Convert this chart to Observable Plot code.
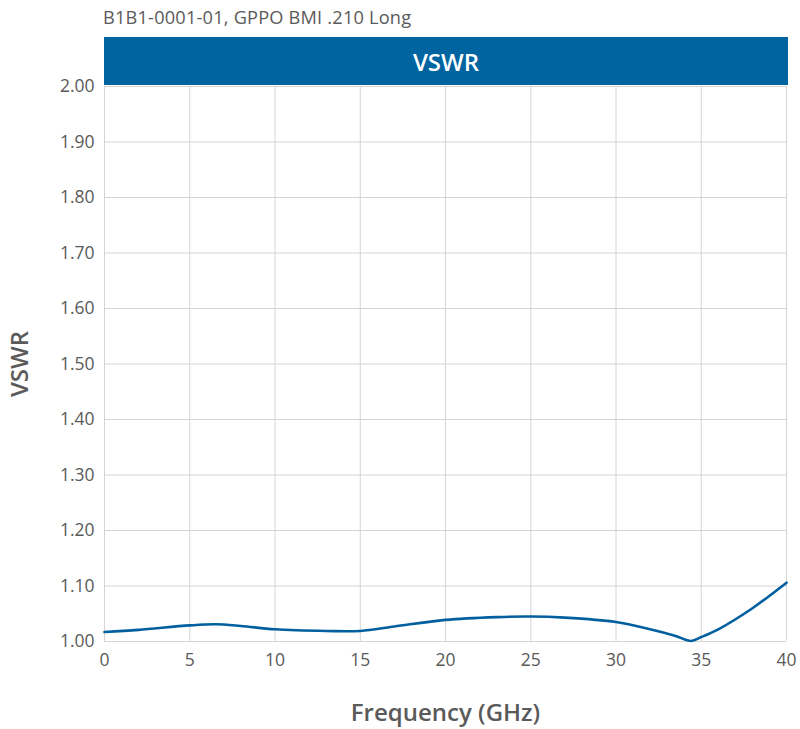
<!DOCTYPE html>
<html>
<head>
<meta charset="utf-8">
<script src="https://cdn.jsdelivr.net/npm/d3@7"></script>
<script src="https://cdn.jsdelivr.net/npm/@observablehq/plot@0.6"></script>
<style>
  body { margin: 0; background: #fff; font-family: "Open Sans", sans-serif; }
  #wrap { position: relative; width: 800px; height: 729px; }
  #chart { position: absolute; left: 0; top: 0; }
  #title { position: absolute; left: 103px; top: 5px; font-size: 18.2px; color: #5a5a5a; white-space: nowrap; letter-spacing: 0.2px; }
  #banner { position: absolute; left: 104px; top: 37px; width: 684px; height: 48px; background: #0064a1; color: #fff;
            font-size: 24px; font-weight: 600; display: flex; align-items: center; justify-content: center; }
</style>
</head>
<body>
<div id="wrap">
  <div id="chart"></div>
  <div id="title">B1B1-0001-01, GPPO BMI .210 Long</div>
  <div id="banner">VSWR</div>
</div>
<script>
const freq = [0, 2, 5, 6.5, 8, 10, 13, 15, 17, 20, 23, 25, 27, 30, 32, 33.5, 34.4, 35, 36, 38, 40];
const vswr = [1.017, 1.021, 1.029, 1.031, 1.028, 1.022, 1.019, 1.019, 1.027, 1.039, 1.044, 1.045, 1.043, 1.035, 1.022, 1.010, 1.001, 1.008, 1.022, 1.060, 1.106];
const xTicks = [0, 5, 10, 15, 20, 25, 30, 35, 40];
const yTicks = [1.0, 1.1, 1.2, 1.3, 1.4, 1.5, 1.6, 1.7, 1.8, 1.9, 2.0];

const data = freq.map((f, i) => ({f, v: vswr[i]}));

const chart = Plot.plot({
  width: 800,
  height: 729,
  marginTop: 86,
  marginBottom: 88,
  marginLeft: 104,
  marginRight: 14,
  style: { fontFamily: "Open Sans, sans-serif", color: "#5a5a5a", background: "transparent" },
  x: { domain: [0, 40] },
  y: { domain: [1.0, 2.0] },
  marks: [
    Plot.gridX(xTicks, { stroke: "#d4d4d4", strokeOpacity: 1, strokeWidth: 1 }),
    Plot.gridY(yTicks, { stroke: "#d4d4d4", strokeOpacity: 1, strokeWidth: 1 }),
    Plot.axisX(xTicks, { tickSize: 0, tickPadding: 12, fontSize: 17.5, label: "Frequency (GHz)", labelAnchor: "center", labelArrow: "none", labelOffset: 79 }),
    Plot.axisY(yTicks, { tickSize: 0, tickPadding: 10, fontSize: 17.5, tickFormat: d3.format(".2f"), label: "VSWR", labelAnchor: "center", labelArrow: "none", labelOffset: 94 }),
    Plot.line(data, { x: "f", y: "v", stroke: "#005f9e", strokeWidth: 2.6, curve: "catmull-rom" })
  ]
});
chart.querySelectorAll("g[aria-label='x-axis label'] text, g[aria-label='y-axis label'] text").forEach(t => {
  t.setAttribute("font-size", "24"); t.setAttribute("font-weight", "600"); t.style.fontSize = "24px"; t.style.fontWeight = "600";
});
document.getElementById("chart").appendChild(chart);
</script>
</body>
</html>
